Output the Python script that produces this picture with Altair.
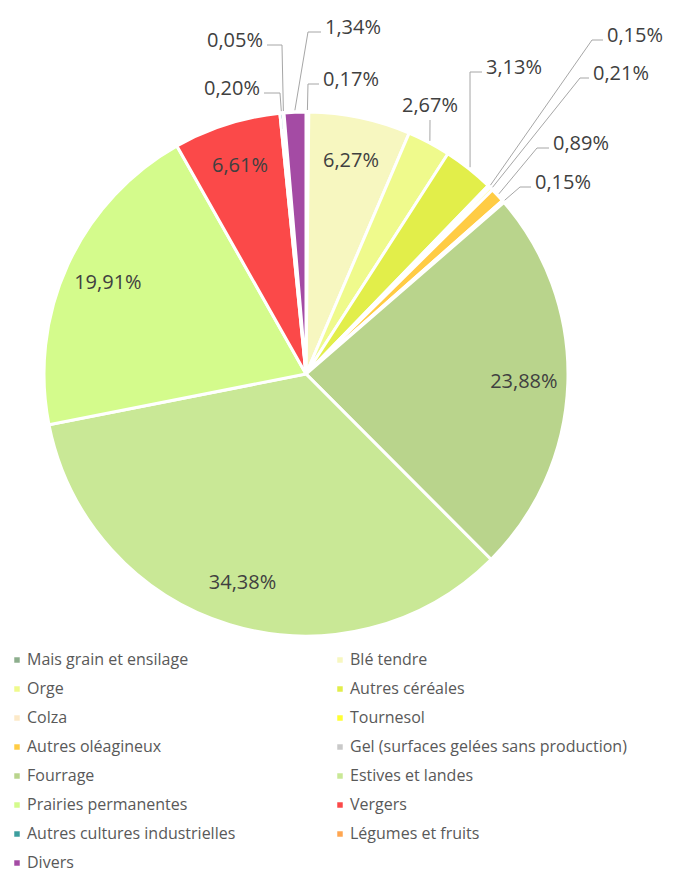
import altair as alt
import pandas as pd

# ---- data ----
categories = [
    "Mais grain et ensilage", "Blé tendre", "Orge", "Autres céréales",
    "Colza", "Tournesol", "Autres oléagineux",
    "Gel (surfaces gelées sans production)", "Fourrage", "Estives et landes",
    "Prairies permanentes", "Vergers", "Autres cultures industrielles",
    "Légumes et fruits", "Divers",
]
values = [0.17, 6.27, 2.67, 3.13, 0.15, 0.21, 0.89, 0.15, 23.88, 34.38,
          19.91, 6.61, 0.20, 0.05, 1.34]

# ---- style ----
colors = [
    "#8DAE8D", "#F7F7C0", "#EFFA8C", "#E2EE4A", "#FCE9C8", "#FFFF33",
    "#FFCC44", "#C9C9C9", "#B9D48C", "#C9E896", "#D4FB8C", "#FB4949",
    "#3C9E9E", "#FFA650", "#A44BA4",
]

# layout of the outside labels (pixels relative to pie centre, y downwards)
out_cats = ["Mais grain et ensilage", "Divers", "Légumes et fruits",
            "Autres cultures industrielles", "Orge", "Autres céréales",
            "Colza", "Tournesol", "Autres oléagineux",
            "Gel (surfaces gelées sans production)"]
elbow_x = [2, 2, -24, -26, 124, 164, 286, 274, 231, 214]
elbow_y = [-290, -342, -329, -281, -254, -302, -334, -296, -226, -187]
text_x = [17, 19, -43, -46, 124, 180, 301, 287, 247, 229]

R = 262
R_IN = 218
FONT = "Open Sans"

df = pd.DataFrame({
    "cat": categories,
    "value": values,
    "idx": list(range(len(categories))),
    "label": [f"{v:.2f}".replace(".", ",") + "%" for v in values],
})
lay = pd.DataFrame({"cat": out_cats, "ex": elbow_x, "ey": elbow_y, "tx": text_x})
df = df.merge(lay, on="cat", how="left")

xs = alt.Scale(domain=[-298, 359], nice=False, zero=False)
ys = alt.Scale(domain=[-366, 498], nice=False, zero=False, reverse=True)

base = (
    alt.Chart(df)
    .transform_joinaggregate(total="sum(value)")
    .transform_window(cum="sum(value)", sort=[alt.SortField("idx")], frame=[None, 0])
    .transform_calculate(
        mid="2*PI*(datum.cum - datum.value/2)/datum.total",
    )
    .transform_calculate(
        sx=f"{R + 2}*sin(datum.mid)",
        sy=f"-{R + 2}*cos(datum.mid)",
        ix=f"{R_IN}*sin(datum.mid)",
        iy=f"-{R_IN}*cos(datum.mid)",
        hx="datum.tx > datum.ex ? datum.tx - 4 : (datum.tx < datum.ex ? datum.tx + 4 : datum.ex)",
        ty="datum.tx == datum.ex ? datum.ey - 14 : datum.ey - 4",
    )
)

arc = base.mark_arc(outerRadius=R, stroke="white", strokeWidth=3).encode(
    theta=alt.Theta("value:Q", stack=True),
    order=alt.Order("idx:Q"),
    color=alt.Color(
        "cat:N",
        sort=categories,
        scale=alt.Scale(domain=categories, range=colors),
        legend=alt.Legend(
            title=None, orient="none", legendX=1, legendY=644, columns=2,
            direction="horizontal",
            columnPadding=96, rowPadding=13, symbolType="square",
            symbolSize=30, symbolStrokeWidth=0, labelFont=FONT,
            labelFontSize=16, labelColor="#595959", labelOffset=2,
            labelLimit=0,
        ),
    ),
    x=alt.XDatum(0, type="quantitative", scale=xs, axis=None),
    y=alt.YDatum(0, type="quantitative", scale=ys, axis=None),
)

outside = base.transform_filter("datum.ex != null")

seg1 = outside.mark_rule(color="#A6A6A6", strokeWidth=1).encode(
    x=alt.X("sx:Q", scale=xs, axis=None),
    y=alt.Y("sy:Q", scale=ys, axis=None),
    x2="ex:Q", y2="ey:Q",
)
seg2 = outside.mark_rule(color="#A6A6A6", strokeWidth=1).encode(
    x=alt.X("ex:Q", scale=xs, axis=None),
    y=alt.Y("ey:Q", scale=ys, axis=None),
    x2="hx:Q", y2="ey:Q",
)

def out_text(cond, align):
    return outside.transform_filter(cond).mark_text(
        align=align, baseline="middle", font=FONT, fontSize=20, color="#404040"
    ).encode(
        x=alt.X("tx:Q", scale=xs, axis=None),
        y=alt.Y("ty:Q", scale=ys, axis=None),
        text="label:N",
    )

t_left = out_text("datum.tx > datum.ex", "left")
t_right = out_text("datum.tx < datum.ex", "right")
t_center = out_text("datum.tx == datum.ex", "center")

inside = base.transform_filter("datum.ex == null").mark_text(
    align="center", baseline="middle", font=FONT, fontSize=20, color="#404040"
).encode(
    x=alt.X("ix:Q", scale=xs, axis=None),
    y=alt.Y("iy:Q", scale=ys, axis=None),
    text="label:N",
)

chart = (
    alt.layer(arc, seg1, seg2, t_left, t_right, t_center, inside)
    .properties(width=657, height=864, padding=0, autosize="none")
    .configure_view(stroke=None)
)

chart.save("out.html", embed_options={"renderer": "svg", "actions": False})
